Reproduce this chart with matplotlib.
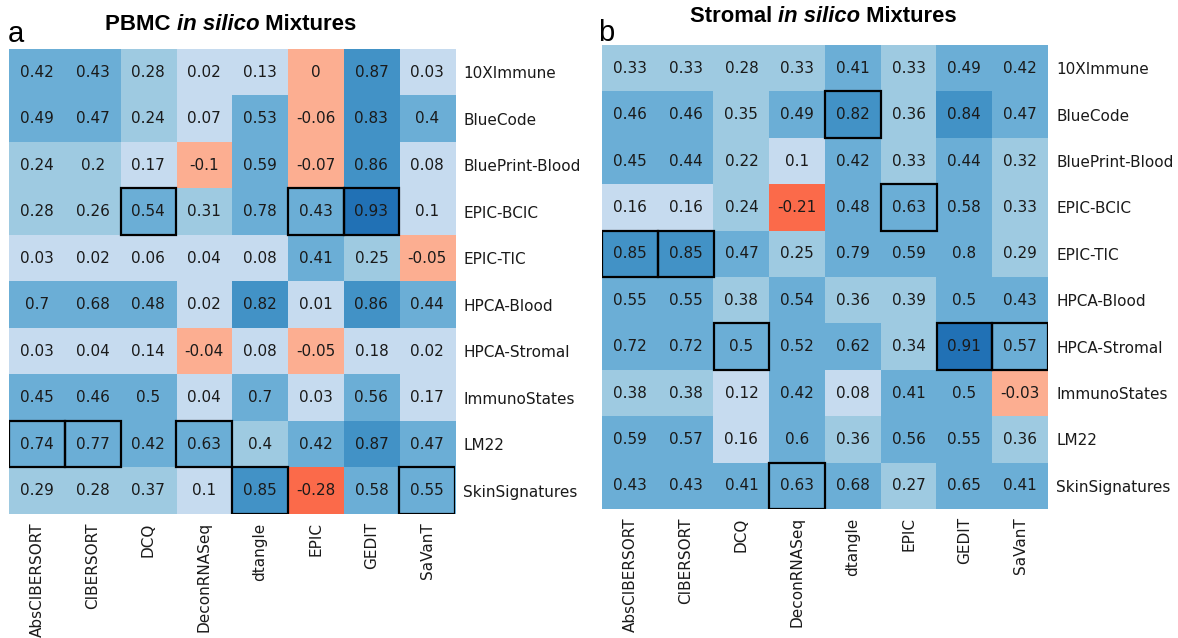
import numpy as np
import matplotlib
matplotlib.use("Agg")
import matplotlib.pyplot as plt
from matplotlib.colors import ListedColormap, BoundaryNorm
from matplotlib.patches import Rectangle

methods = ["AbsCIBERSORT", "CIBERSORT", "DCQ", "DeconRNASeq", "dtangle", "EPIC", "GEDIT", "SaVanT"]
signatures = ["10XImmune", "BlueCode", "BluePrint-Blood", "EPIC-BCIC", "EPIC-TIC",
              "HPCA-Blood", "HPCA-Stromal", "ImmunoStates", "LM22", "SkinSignatures"]

pbmc_10XImmune = [0.42, 0.43, 0.28, 0.02, 0.13, 0.00, 0.87, 0.03]
pbmc_BlueCode = [0.49, 0.47, 0.24, 0.07, 0.53, -0.06, 0.83, 0.40]
pbmc_BluePrint = [0.24, 0.20, 0.17, -0.10, 0.59, -0.07, 0.86, 0.08]
pbmc_EPIC_BCIC = [0.28, 0.26, 0.54, 0.31, 0.78, 0.43, 0.93, 0.10]
pbmc_EPIC_TIC = [0.03, 0.02, 0.06, 0.04, 0.08, 0.41, 0.25, -0.05]
pbmc_HPCA_Blood = [0.70, 0.68, 0.48, 0.02, 0.82, 0.01, 0.86, 0.44]
pbmc_HPCA_Stromal = [0.03, 0.04, 0.14, -0.04, 0.08, -0.05, 0.18, 0.02]
pbmc_ImmunoStates = [0.45, 0.46, 0.50, 0.04, 0.70, 0.03, 0.56, 0.17]
pbmc_LM22 = [0.74, 0.77, 0.42, 0.63, 0.396, 0.42, 0.87, 0.47]
pbmc_Skin = [0.29, 0.28, 0.37, 0.10, 0.85, -0.28, 0.58, 0.55]

strom_10XImmune = [0.33, 0.33, 0.28, 0.33, 0.41, 0.33, 0.49, 0.42]
strom_BlueCode = [0.46, 0.46, 0.35, 0.49, 0.82, 0.36, 0.84, 0.47]
strom_BluePrint = [0.45, 0.44, 0.22, 0.10, 0.42, 0.33, 0.44, 0.32]
strom_EPIC_BCIC = [0.16, 0.16, 0.24, -0.21, 0.48, 0.63, 0.58, 0.33]
strom_EPIC_TIC = [0.85, 0.85, 0.47, 0.25, 0.79, 0.59, 0.80, 0.29]
strom_HPCA_Blood = [0.55, 0.55, 0.38, 0.54, 0.36, 0.39, 0.50, 0.43]
strom_HPCA_Stromal = [0.72, 0.72, 0.50, 0.52, 0.62, 0.34, 0.91, 0.57]
strom_ImmunoStates = [0.38, 0.38, 0.12, 0.42, 0.08, 0.41, 0.50, -0.03]
strom_LM22 = [0.59, 0.57, 0.16, 0.60, 0.36, 0.56, 0.55, 0.36]
strom_Skin = [0.43, 0.43, 0.41, 0.63, 0.68, 0.27, 0.65, 0.41]

pbmc = np.array([pbmc_10XImmune, pbmc_BlueCode, pbmc_BluePrint, pbmc_EPIC_BCIC, pbmc_EPIC_TIC,
                 pbmc_HPCA_Blood, pbmc_HPCA_Stromal, pbmc_ImmunoStates, pbmc_LM22, pbmc_Skin])
strom = np.array([strom_10XImmune, strom_BlueCode, strom_BluePrint, strom_EPIC_BCIC, strom_EPIC_TIC,
                  strom_HPCA_Blood, strom_HPCA_Stromal, strom_ImmunoStates, strom_LM22, strom_Skin])

bin_edges = [-1.0, -0.15, 0.005, 0.19, 0.4, 0.81, 0.89, 1.0]
bin_colors = ["#fb6a4a", "#fcae91", "#c6dbef", "#9ecae1", "#6baed6", "#4292c6", "#2171b5"]
cmap = ListedColormap(bin_colors)
norm = BoundaryNorm(bin_edges, cmap.N)


def fmt(v):
    s = f"{v:.2f}".rstrip("0").rstrip(".")
    return "0" if s in ("-0", "") else s


def draw(ax, data):
    ax.imshow(data, cmap=cmap, norm=norm, aspect="auto", interpolation="nearest")
    nr, nc = data.shape
    for i in range(nr):
        for j in range(nc):
            ax.text(j, i, fmt(data[i, j]), ha="center", va="center", fontsize=11,
                    color="#1a1a1a", family="DejaVu Sans")
    best = np.argmax(data, axis=0)
    for j, i in enumerate(best):
        ax.add_patch(Rectangle((j - 0.5, i - 0.5), 1, 1, fill=False, edgecolor="black",
                               lw=1.6, zorder=5))
    ax.set_xticks(range(nc))
    ax.set_xticklabels(methods, rotation=90, fontsize=11, color="#1a1a1a")
    ax.set_yticks(range(nr))
    ax.set_yticklabels(signatures, fontsize=11, color="#1a1a1a")
    ax.yaxis.tick_right()
    ax.tick_params(length=0, pad=6)
    for s in ax.spines.values():
        s.set_visible(False)
    ax.set_xlim(-0.5, nc - 0.5)
    ax.set_ylim(nr - 0.5, -0.5)


W, H = 1178, 638
fig = plt.figure(figsize=(W / 100, H / 100), dpi=100)
ax1 = fig.add_axes([9 / W, 1 - 514 / H, 446 / W, 465 / H])
ax2 = fig.add_axes([602 / W, 1 - 509 / H, 446 / W, 464 / H])
draw(ax1, pbmc)
draw(ax2, strom)


def title(x_px, y_px, parts, size):
    renderer = fig.canvas.get_renderer()
    x = x_px / W
    for txt, style in parts:
        t = fig.text(x, 1 - y_px / H, txt, fontsize=size, weight="bold", style=style,
                     family="Liberation Sans", ha="left", va="baseline")
        bb = t.get_window_extent(renderer)
        x += bb.width / W


title(105, 30, [("PBMC ", "normal"), ("in silico", "italic"), (" Mixtures", "normal")], 16)
title(690, 22, [("Stromal ", "normal"), ("in silico", "italic"), (" Mixtures", "normal")], 15.8)

fig.text(8 / W, 1 - 42 / H, "a", fontsize=21, family="Liberation Sans", ha="left", va="baseline")
fig.text(598 / W, 1 - 41 / H, "b", fontsize=21, family="Liberation Sans", ha="left", va="baseline")

fig.savefig("out.png", dpi=100, facecolor="white")
